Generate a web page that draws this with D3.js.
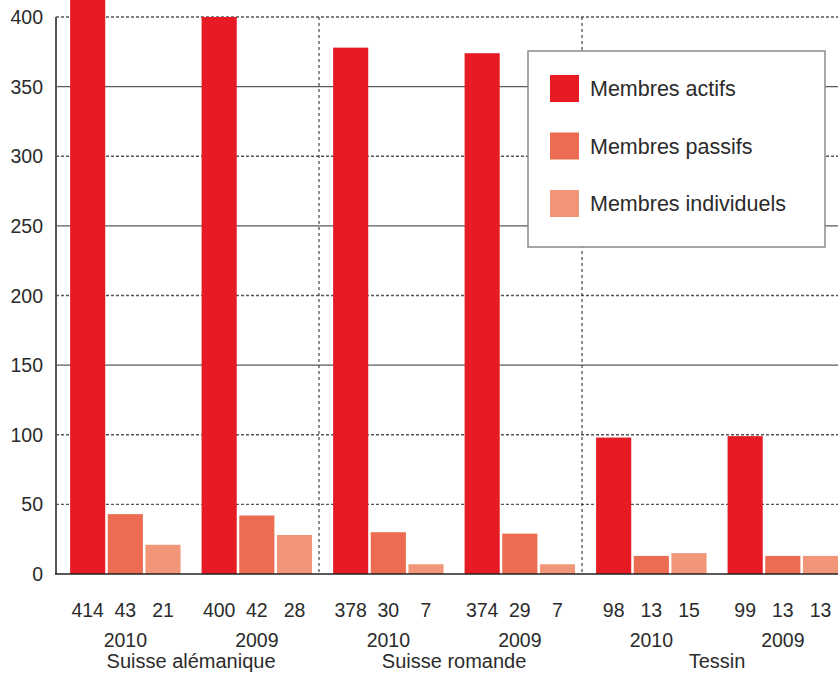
<!DOCTYPE html>
<html>
<head>
<meta charset="utf-8">
<script src="https://cdn.jsdelivr.net/npm/d3@7"></script>
<style>
  body { margin: 0; background: #fff; }
  svg { display: block; font-family: "Liberation Sans", Arial, sans-serif; }
</style>
</head>
<body>
<svg id="view"></svg>
<script>
// data
var regions = ["Suisse alémanique", "Suisse romande", "Tessin"];
var years = ["2010", "2009"];
var series = ["Membres actifs", "Membres passifs", "Membres individuels"];
var colors = ["#e61b24", "#eb6c50", "#f29679"];
// values per region, per year, per series
var actifs     = [[414, 400], [378, 374], [98, 99]];
var passifs    = [[43, 42],   [30, 29],   [13, 13]];
var individuels= [[21, 28],   [7, 7],     [15, 13]];
var yTicks = [0, 50, 100, 150, 200, 250, 300, 350, 400];
var solidTicks = [150, 250, 350];

var width = 838, height = 673;
var svg = d3.select("#view").attr("width", width).attr("height", height);

var left = 56, base = 574, regionW = 263;
var fs = 19.5, ink = "#2b2b2b";

var y = d3.scaleLinear().domain([0, 400]).range([base, 17]);

var x0 = d3.scaleBand().domain(regions).range([left, left + regionW * regions.length]);
var x1 = d3.scaleBand().domain(years).range([0, regionW])
	.paddingInner(0.16).paddingOuter(0.08).align(0.67);
var x2 = d3.scaleBand().domain(series).range([0, x1.bandwidth()]).paddingInner(0.067);

var rows = [];
regions.forEach((r, ri) => {
	years.forEach((yr, yi) => {
		[actifs, passifs, individuels].forEach((arr, si) => {
			rows.push({ region: r, year: yr, serie: series[si], value: arr[ri][yi], color: colors[si] });
		});
	});
});

// grid
var grid = svg.append("g");
yTicks.filter(d => d > 0).forEach(t => {
	var solid = solidTicks.indexOf(t) >= 0;
	grid.append("line")
		.attr("x1", left).attr("x2", width)
		.attr("y1", y(t)).attr("y2", y(t))
		.attr("stroke", solid ? "#5a5a5a" : "#555")
		.attr("stroke-width", 1.3)
		.attr("stroke-dasharray", solid ? null : "3,2");
});

// region separators
regions.slice(1).forEach(r => {
	grid.append("line")
		.attr("x1", x0(r)).attr("x2", x0(r))
		.attr("y1", y(400)).attr("y2", base)
		.attr("stroke", "#333")
		.attr("stroke-width", 1.1)
		.attr("stroke-dasharray", "3,3");
});

// bars
svg.append("g").selectAll("rect")
	.data(rows)
	.join("rect")
	.attr("x", d => x0(d.region) + x1(d.year) + x2(d.serie))
	.attr("y", d => y(d.value))
	.attr("width", x2.bandwidth())
	.attr("height", d => base - y(d.value))
	.attr("fill", d => d.color);

// axes lines
svg.append("line")
	.attr("x1", left).attr("x2", left)
	.attr("y1", y(400)).attr("y2", base)
	.attr("stroke", "#555").attr("stroke-width", 2);
svg.append("line")
	.attr("x1", left - 1).attr("x2", width)
	.attr("y1", base).attr("y2", base)
	.attr("stroke", "#222").attr("stroke-width", 1.5);

// y tick labels
svg.append("g").selectAll("text")
	.data(yTicks)
	.join("text")
	.attr("x", 43)
	.attr("y", d => y(d) + 7)
	.attr("text-anchor", "end")
	.attr("font-size", fs)
	.attr("fill", ink)
	.text(d => d);

// value labels
svg.append("g").selectAll("text")
	.data(rows)
	.join("text")
	.attr("x", d => x0(d.region) + x1(d.year) + x2(d.serie) + x2.bandwidth() / 2)
	.attr("y", 617)
	.attr("text-anchor", "middle")
	.attr("font-size", fs)
	.attr("fill", ink)
	.text(d => d.value);

// year labels
regions.forEach(r => {
	years.forEach(yr => {
		svg.append("text")
			.attr("x", x0(r) + x1(yr) + x1.bandwidth() / 2)
			.attr("y", 647)
			.attr("text-anchor", "middle")
			.attr("font-size", fs)
			.attr("fill", ink)
			.text(yr);
	});
	svg.append("text")
		.attr("x", x0(r) + (x1(years[0]) + x1(years[1]) + x1.bandwidth()) / 2)
		.attr("y", 668)
		.attr("text-anchor", "middle")
		.attr("font-size", 20)
		.attr("fill", ink)
		.text(r);
});

// legend
var lg = svg.append("g").attr("transform", "translate(528,51)");
lg.append("rect")
	.attr("width", 297).attr("height", 196)
	.attr("fill", "#fff")
	.attr("stroke", "#8a8a8a").attr("stroke-width", 1.5);
series.forEach((s, i) => {
	lg.append("rect")
		.attr("x", 22).attr("y", 24 + i * 57.5)
		.attr("width", 29).attr("height", 27)
		.attr("fill", colors[i]);
	lg.append("text")
		.attr("x", 62).attr("y", 24 + i * 57.5 + 21)
		.attr("font-size", 21.5)
		.attr("fill", ink)
		.text(s);
});
</script>
</body>
</html>
